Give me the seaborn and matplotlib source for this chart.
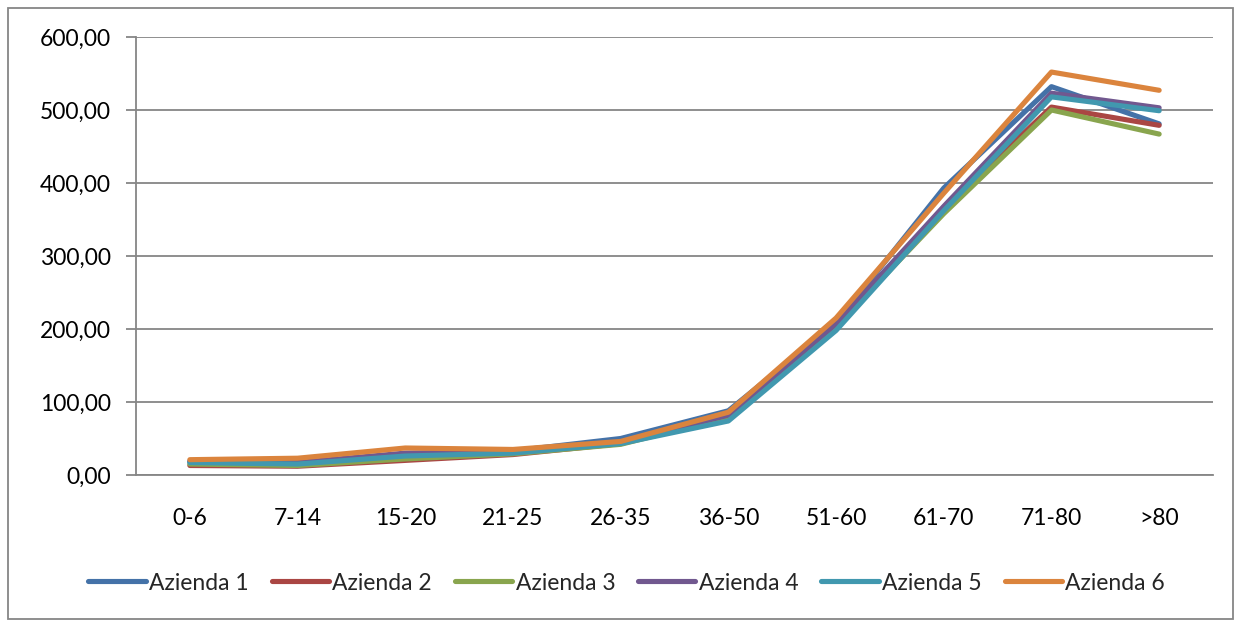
import matplotlib
matplotlib.use("Agg")
import matplotlib.pyplot as plt
from matplotlib.patches import Rectangle
from matplotlib.ticker import FuncFormatter, FixedLocator
import pandas as pd
import seaborn as sns

categories = ["0-6", "7-14", "15-20", "21-25", "26-35", "36-50", "51-60", "61-70", "71-80", ">80"]
azienda_1 = [18, 16, 28, 33, 50, 88, 208, 393, 532, 481]
azienda_2 = [13, 12, 20, 28, 43, 80, 207, 365, 504, 479]
azienda_3 = [15, 13, 22, 29, 42, 79, 203, 358, 500, 467]
azienda_4 = [19, 17, 30, 32, 45, 82, 207, 368, 523, 503]
azienda_5 = [17, 15, 26, 30, 43, 74, 198, 362, 518, 499]
azienda_6 = [21, 23, 37, 35, 46, 86, 215, 386, 552, 527]

series_names = ["Azienda 1", "Azienda 2", "Azienda 3", "Azienda 4", "Azienda 5", "Azienda 6"]
series_values = [azienda_1, azienda_2, azienda_3, azienda_4, azienda_5, azienda_6]
colors = ["#4472a8", "#aa4643", "#89a54e", "#71588f", "#4198af", "#db843d"]

rows = []
for name, vals in zip(series_names, series_values):
    for cat, v in zip(categories, vals):
        rows.append({"Fascia": cat, "Valore": v, "Serie": name})
df = pd.DataFrame(rows)

sns.set_style("white")
plt.rcParams["font.family"] = ["Lato", "DejaVu Sans"]

FS = 16.5
fig = plt.figure(figsize=(12.41, 6.21), dpi=100)
ax = fig.add_axes([136 / 1241, 1 - 475 / 621, (1213 - 136) / 1241, (475 - 37) / 621])

sns.lineplot(data=df, x="Fascia", y="Valore", hue="Serie", palette=colors,
             linewidth=3.7, sort=False, ax=ax, legend=False,
             solid_capstyle="round", solid_joinstyle="round")

ax.set_xlim(-0.5, len(categories) - 0.5)
ax.set_ylim(0, 600)
ax.set_yticks(range(0, 601, 100))
ax.yaxis.set_major_formatter(FuncFormatter(lambda v, p: f"{v:.2f}".replace(".", ",")))
ax.set_xticks(range(len(categories)))
ax.set_xticklabels(categories)
ax.xaxis.set_minor_locator(FixedLocator([i - 0.5 for i in range(len(categories) + 1)]))
ax.tick_params(axis="x", which="major", length=0, pad=24, labelsize=FS, colors="black")
ax.tick_params(axis="x", which="minor", length=7, width=1.3, color="#868686", direction="out")
ax.tick_params(axis="y", which="major", length=7, width=1.3, color="#868686", direction="out",
               labelsize=FS, pad=11, left=True, labelcolor="black")
ax.set_xlabel("")
ax.set_ylabel("")
ax.grid(axis="y", color="#868686", linewidth=1.3)
ax.set_axisbelow(True)
for side in ["top", "right"]:
    ax.spines[side].set_visible(False)
for side in ["left", "bottom"]:
    ax.spines[side].set_color("#868686")
    ax.spines[side].set_linewidth(1.3)

handles = [plt.Line2D([], [], color=c, linewidth=3.7, solid_capstyle="round") for c in colors]
fig.legend(handles, series_names, loc="center", bbox_to_anchor=(0.505, 1 - 583 / 621),
           ncol=6, frameon=False, fontsize=FS, handlelength=2.5, handletextpad=0.15,
           columnspacing=1.0)

fig.patches.append(Rectangle((8 / 1241, 2 / 621), 1 - 16 / 1241, 1 - 10 / 621,
                             transform=fig.transFigure, fill=False,
                             edgecolor="#868686", linewidth=1.3))

fig.savefig("out.png", dpi=100)
